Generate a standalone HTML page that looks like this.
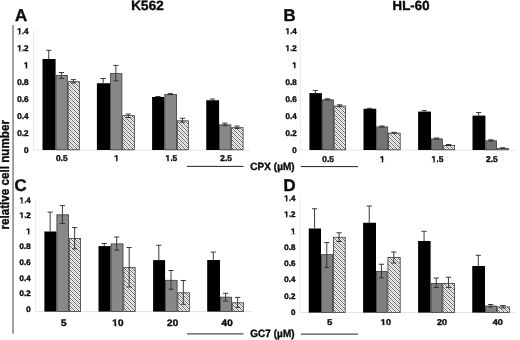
<!DOCTYPE html><html><head><meta charset="utf-8"><title>Figure</title>
<style>html,body{margin:0;padding:0;background:#fff}svg{display:block;will-change:transform;filter:blur(0.4px)}text{font-family:'Liberation Sans', sans-serif;font-weight:bold;stroke:#0a0a0a;stroke-width:0.35px;stroke-linejoin:round}</style></head><body>
<svg width="520" height="340" viewBox="0 0 520 340">
<defs><pattern id="h" width="4" height="4" patternUnits="userSpaceOnUse"><rect width="4" height="4" fill="#f6f6f6"/><path d="M-1 -5L5 1M-1 -1L5 5M-1 3L5 9" stroke="#363636" stroke-width="0.75" fill="none"/><path d="M-1 -3L5 3M-1 1L5 7" stroke="#9a9a9a" stroke-width="0.55" fill="none"/></pattern></defs>
<rect width="520" height="340" fill="#fff"/>
<line x1="13.05" y1="25" x2="13.05" y2="333.8" stroke="#707070" stroke-width="1.3"/>
<text transform="translate(9.3,229.5) rotate(-90)" font-size="12" textLength="109.5" lengthAdjust="spacingAndGlyphs" fill="#0a0a0a">relative cell number</text>
<g transform="translate(15 20.6) matrix(1 0 0.02 1 0 0)"><text font-size="17" text-anchor="start" fill="#0a0a0a">A</text></g>
<g transform="translate(283.5 21.1) matrix(1 0 0.02 1 0 0)"><text font-size="17" text-anchor="start" fill="#0a0a0a">B</text></g>
<g transform="translate(14.4 190.8) matrix(1 0 0.02 1 0 0)"><text font-size="17" text-anchor="start" fill="#0a0a0a">C</text></g>
<g transform="translate(283.6 191.0) matrix(1 0 0.02 1 0 0)"><text font-size="17" text-anchor="start" fill="#0a0a0a">D</text></g>
<g transform="translate(131.2 10.2) matrix(1 0 0.02 1 0 0)"><text font-size="13.4" text-anchor="start" fill="#0a0a0a" textLength="32.6" lengthAdjust="spacingAndGlyphs">K562</text></g>
<g transform="translate(392.6 10.4) matrix(1 0 0.02 1 0 0)"><text font-size="13.2" text-anchor="start" fill="#0a0a0a" textLength="37.0" lengthAdjust="spacingAndGlyphs">HL-60</text></g>
<line x1="33.5" y1="30" x2="33.5" y2="150" stroke="#ebebeb" stroke-width="1"/>
<line x1="33.5" y1="150" x2="250" y2="150" stroke="#e2e2e2" stroke-width="1"/>
<g transform="translate(28.7 153.0) matrix(1 0 0.02 1 0 0)"><text font-size="8.3" text-anchor="end" fill="#0a0a0a">0</text></g>
<g transform="translate(28.7 135.94) matrix(1 0 0.02 1 0 0)"><text font-size="8.3" text-anchor="end" fill="#0a0a0a">0.2</text></g>
<g transform="translate(28.7 118.89) matrix(1 0 0.02 1 0 0)"><text font-size="8.3" text-anchor="end" fill="#0a0a0a">0.4</text></g>
<g transform="translate(28.7 101.83) matrix(1 0 0.02 1 0 0)"><text font-size="8.3" text-anchor="end" fill="#0a0a0a">0.6</text></g>
<g transform="translate(28.7 84.77) matrix(1 0 0.02 1 0 0)"><text font-size="8.3" text-anchor="end" fill="#0a0a0a">0.8</text></g>
<g transform="translate(28.7 67.71) matrix(1 0 0.02 1 0 0)"><text font-size="8.3" text-anchor="end" fill="#0a0a0a">1</text><rect x="-4.89" y="-1.25" width="2.05" height="1.75" fill="#fff"/><rect x="-1.38" y="-1.25" width="2.01" height="1.75" fill="#fff"/></g>
<g transform="translate(28.7 50.66) matrix(1 0 0.02 1 0 0)"><text font-size="8.3" text-anchor="end" fill="#0a0a0a">1.2</text><rect x="-11.81" y="-1.25" width="2.05" height="1.75" fill="#fff"/><rect x="-8.30" y="-1.25" width="2.01" height="1.75" fill="#fff"/></g>
<g transform="translate(28.7 33.6) matrix(1 0 0.02 1 0 0)"><text font-size="8.3" text-anchor="end" fill="#0a0a0a">1.4</text><rect x="-11.81" y="-1.25" width="2.05" height="1.75" fill="#fff"/><rect x="-8.30" y="-1.25" width="2.01" height="1.75" fill="#fff"/></g>
<rect x="42.50" y="59.00" width="13.10" height="91.00" fill="#000"/>
<path d="M48.75 50.25V59.00M46.15 50.25H51.35" stroke="#303030" stroke-width="0.95" fill="none"/>
<rect x="56.00" y="75.40" width="11.35" height="74.40" fill="#888888" stroke="#3a3a3a" stroke-width="0.8"/>
<path d="M61.38 72.50V78.50M58.77 72.50H63.98M58.77 78.50H63.98" stroke="#303030" stroke-width="0.95" fill="none"/>
<rect x="68.15" y="81.65" width="11.20" height="68.15" fill="url(#h)" stroke="#3a3a3a" stroke-width="0.8"/>
<path d="M73.45 79.60V83.00M70.85 79.60H76.05M70.85 83.00H76.05" stroke="#303030" stroke-width="0.95" fill="none"/>
<rect x="96.90" y="83.25" width="13.10" height="66.75" fill="#000"/>
<path d="M103.15 78.50V83.25M100.55 78.50H105.75" stroke="#303030" stroke-width="0.95" fill="none"/>
<rect x="110.40" y="73.65" width="11.50" height="76.15" fill="#888888" stroke="#3a3a3a" stroke-width="0.8"/>
<path d="M115.85 65.40V80.75M113.25 65.40H118.45M113.25 80.75H118.45" stroke="#303030" stroke-width="0.95" fill="none"/>
<rect x="122.70" y="115.65" width="11.65" height="34.15" fill="url(#h)" stroke="#3a3a3a" stroke-width="0.8"/>
<path d="M128.22 114.00V117.50M125.62 114.00H130.82M125.62 117.50H130.82" stroke="#303030" stroke-width="0.95" fill="none"/>
<rect x="152.10" y="97.00" width="12.30" height="53.00" fill="#000"/>
<path d="M157.95 96.50V97.00M155.35 96.50H160.55" stroke="#303030" stroke-width="0.95" fill="none"/>
<rect x="164.80" y="94.50" width="11.70" height="55.30" fill="#888888" stroke="#3a3a3a" stroke-width="0.8"/>
<path d="M170.35 93.60V94.60M167.75 93.60H172.95M167.75 94.60H172.95" stroke="#303030" stroke-width="0.95" fill="none"/>
<rect x="177.30" y="120.80" width="11.05" height="29.00" fill="url(#h)" stroke="#3a3a3a" stroke-width="0.8"/>
<path d="M182.52 118.25V122.25M179.92 118.25H185.12M179.92 122.25H185.12" stroke="#303030" stroke-width="0.95" fill="none"/>
<rect x="206.25" y="100.25" width="12.85" height="49.75" fill="#000"/>
<path d="M212.38 99.00V100.25M209.78 99.00H214.97" stroke="#303030" stroke-width="0.95" fill="none"/>
<rect x="219.50" y="124.80" width="11.35" height="25.00" fill="#888888" stroke="#3a3a3a" stroke-width="0.8"/>
<path d="M224.88 123.10V125.60M222.28 123.10H227.47M222.28 125.60H227.47" stroke="#303030" stroke-width="0.95" fill="none"/>
<rect x="231.65" y="127.65" width="11.45" height="22.15" fill="url(#h)" stroke="#3a3a3a" stroke-width="0.8"/>
<path d="M237.07 126.00V128.50M234.47 126.00H239.67M234.47 128.50H239.67" stroke="#303030" stroke-width="0.95" fill="none"/>
<g transform="translate(61.8 161.3) matrix(1 0 0.02 1 0 0)"><text font-size="8.5" text-anchor="middle" fill="#0a0a0a">0.5</text></g>
<g transform="translate(116.6 161.3) matrix(1 0 0.02 1 0 0)"><text font-size="8.5" text-anchor="middle" fill="#0a0a0a">1</text><rect x="-2.63" y="-1.27" width="2.09" height="1.77" fill="#fff"/><rect x="0.95" y="-1.27" width="2.04" height="1.77" fill="#fff"/></g>
<g transform="translate(171.4 161.3) matrix(1 0 0.02 1 0 0)"><text font-size="8.5" text-anchor="middle" fill="#0a0a0a">1.5</text><rect x="-6.17" y="-1.27" width="2.09" height="1.77" fill="#fff"/><rect x="-2.60" y="-1.27" width="2.04" height="1.77" fill="#fff"/></g>
<g transform="translate(226.1 161.3) matrix(1 0 0.02 1 0 0)"><text font-size="8.5" text-anchor="middle" fill="#0a0a0a">2.5</text></g>
<line x1="300.4" y1="30" x2="300.4" y2="150" stroke="#ebebeb" stroke-width="1"/>
<line x1="300.4" y1="150" x2="515" y2="150" stroke="#e2e2e2" stroke-width="1"/>
<g transform="translate(296.8 153.0) matrix(1 0 0.02 1 0 0)"><text font-size="8.2" text-anchor="end" fill="#0a0a0a">0</text></g>
<g transform="translate(296.8 136.04) matrix(1 0 0.02 1 0 0)"><text font-size="8.2" text-anchor="end" fill="#0a0a0a">0.2</text></g>
<g transform="translate(296.8 119.09) matrix(1 0 0.02 1 0 0)"><text font-size="8.2" text-anchor="end" fill="#0a0a0a">0.4</text></g>
<g transform="translate(296.8 102.13) matrix(1 0 0.02 1 0 0)"><text font-size="8.2" text-anchor="end" fill="#0a0a0a">0.6</text></g>
<g transform="translate(296.8 85.17) matrix(1 0 0.02 1 0 0)"><text font-size="8.2" text-anchor="end" fill="#0a0a0a">0.8</text></g>
<g transform="translate(296.8 68.21) matrix(1 0 0.02 1 0 0)"><text font-size="8.2" text-anchor="end" fill="#0a0a0a">1</text><rect x="-4.84" y="-1.24" width="2.04" height="1.74" fill="#fff"/><rect x="-1.36" y="-1.24" width="1.99" height="1.74" fill="#fff"/></g>
<g transform="translate(296.8 51.26) matrix(1 0 0.02 1 0 0)"><text font-size="8.2" text-anchor="end" fill="#0a0a0a">1.2</text><rect x="-11.68" y="-1.24" width="2.04" height="1.74" fill="#fff"/><rect x="-8.20" y="-1.24" width="1.99" height="1.74" fill="#fff"/></g>
<g transform="translate(296.8 34.3) matrix(1 0 0.02 1 0 0)"><text font-size="8.2" text-anchor="end" fill="#0a0a0a">1.4</text><rect x="-11.68" y="-1.24" width="2.04" height="1.74" fill="#fff"/><rect x="-8.20" y="-1.24" width="1.99" height="1.74" fill="#fff"/></g>
<rect x="309.40" y="93.10" width="12.50" height="56.90" fill="#000"/>
<path d="M315.35 90.60V93.10M312.75 90.60H317.95" stroke="#303030" stroke-width="0.95" fill="none"/>
<rect x="322.30" y="99.80" width="11.05" height="50.00" fill="#747474" stroke="#3a3a3a" stroke-width="0.8"/>
<path d="M327.52 98.80V100.00M324.92 98.80H330.12M324.92 100.00H330.12" stroke="#303030" stroke-width="0.95" fill="none"/>
<rect x="334.15" y="106.00" width="11.45" height="43.80" fill="url(#h)" stroke="#3a3a3a" stroke-width="0.8"/>
<path d="M339.57 104.80V106.60M336.97 104.80H342.18M336.97 106.60H342.18" stroke="#303030" stroke-width="0.95" fill="none"/>
<rect x="363.50" y="108.75" width="12.75" height="41.25" fill="#000"/>
<path d="M369.57 108.30V108.75M366.97 108.30H372.18" stroke="#303030" stroke-width="0.95" fill="none"/>
<rect x="376.65" y="126.90" width="11.05" height="22.90" fill="#747474" stroke="#3a3a3a" stroke-width="0.8"/>
<path d="M381.88 126.00V127.00M379.27 126.00H384.48M379.27 127.00H384.48" stroke="#303030" stroke-width="0.95" fill="none"/>
<rect x="388.50" y="133.15" width="11.70" height="16.65" fill="url(#h)" stroke="#3a3a3a" stroke-width="0.8"/>
<path d="M394.05 132.30V133.20M391.45 132.30H396.65M391.45 133.20H396.65" stroke="#303030" stroke-width="0.95" fill="none"/>
<rect x="418.10" y="111.60" width="12.90" height="38.40" fill="#000"/>
<path d="M424.25 110.60V111.60M421.65 110.60H426.85" stroke="#303030" stroke-width="0.95" fill="none"/>
<rect x="431.40" y="138.90" width="10.95" height="10.90" fill="#747474" stroke="#3a3a3a" stroke-width="0.8"/>
<path d="M436.57 138.00V139.00M433.97 138.00H439.18M433.97 139.00H439.18" stroke="#303030" stroke-width="0.95" fill="none"/>
<rect x="443.15" y="145.40" width="11.45" height="4.40" fill="url(#h)" stroke="#3a3a3a" stroke-width="0.8"/>
<path d="M448.57 144.50V145.50M445.97 144.50H451.18M445.97 145.50H451.18" stroke="#303030" stroke-width="0.95" fill="none"/>
<rect x="472.50" y="115.60" width="12.90" height="34.40" fill="#000"/>
<path d="M478.65 112.50V115.60M476.05 112.50H481.25" stroke="#303030" stroke-width="0.95" fill="none"/>
<rect x="485.80" y="140.80" width="10.70" height="9.00" fill="#747474" stroke="#3a3a3a" stroke-width="0.8"/>
<path d="M490.85 139.80V141.00M488.25 139.80H493.45M488.25 141.00H493.45" stroke="#303030" stroke-width="0.95" fill="none"/>
<rect x="497.30" y="148.50" width="11.30" height="1.30" fill="url(#h)" stroke="#3a3a3a" stroke-width="0.8"/>
<path d="M502.65 147.80V148.40M500.05 147.80H505.25M500.05 148.40H505.25" stroke="#303030" stroke-width="0.95" fill="none"/>
<g transform="translate(328.1 161.8) matrix(1 0 0.02 1 0 0)"><text font-size="8.5" text-anchor="middle" fill="#0a0a0a">0.5</text></g>
<g transform="translate(382.25 161.8) matrix(1 0 0.02 1 0 0)"><text font-size="8.5" text-anchor="middle" fill="#0a0a0a">1</text><rect x="-2.63" y="-1.27" width="2.09" height="1.77" fill="#fff"/><rect x="0.95" y="-1.27" width="2.04" height="1.77" fill="#fff"/></g>
<g transform="translate(437.5 161.8) matrix(1 0 0.02 1 0 0)"><text font-size="8.5" text-anchor="middle" fill="#0a0a0a">1.5</text><rect x="-6.17" y="-1.27" width="2.09" height="1.77" fill="#fff"/><rect x="-2.60" y="-1.27" width="2.04" height="1.77" fill="#fff"/></g>
<g transform="translate(491.9 161.8) matrix(1 0 0.02 1 0 0)"><text font-size="8.5" text-anchor="middle" fill="#0a0a0a">2.5</text></g>
<line x1="35.6" y1="200" x2="35.6" y2="311.6" stroke="#ebebeb" stroke-width="1"/>
<line x1="35.6" y1="311.6" x2="252" y2="311.6" stroke="#e2e2e2" stroke-width="1"/>
<g transform="translate(30.8 312.0) matrix(1 0 0.02 1 0 0)"><text font-size="8.1" text-anchor="end" fill="#0a0a0a">0</text></g>
<g transform="translate(30.8 296.37) matrix(1 0 0.02 1 0 0)"><text font-size="8.1" text-anchor="end" fill="#0a0a0a">0.2</text></g>
<g transform="translate(30.8 280.74) matrix(1 0 0.02 1 0 0)"><text font-size="8.1" text-anchor="end" fill="#0a0a0a">0.4</text></g>
<g transform="translate(30.8 265.11) matrix(1 0 0.02 1 0 0)"><text font-size="8.1" text-anchor="end" fill="#0a0a0a">0.6</text></g>
<g transform="translate(30.8 249.49) matrix(1 0 0.02 1 0 0)"><text font-size="8.1" text-anchor="end" fill="#0a0a0a">0.8</text></g>
<g transform="translate(30.8 233.86) matrix(1 0 0.02 1 0 0)"><text font-size="8.1" text-anchor="end" fill="#0a0a0a">1</text><rect x="-4.79" y="-1.23" width="2.02" height="1.73" fill="#fff"/><rect x="-1.34" y="-1.23" width="1.98" height="1.73" fill="#fff"/></g>
<g transform="translate(30.8 218.23) matrix(1 0 0.02 1 0 0)"><text font-size="8.1" text-anchor="end" fill="#0a0a0a">1.2</text><rect x="-11.55" y="-1.23" width="2.02" height="1.73" fill="#fff"/><rect x="-8.10" y="-1.23" width="1.98" height="1.73" fill="#fff"/></g>
<g transform="translate(30.8 202.6) matrix(1 0 0.02 1 0 0)"><text font-size="8.1" text-anchor="end" fill="#0a0a0a">1.4</text><rect x="-11.55" y="-1.23" width="2.02" height="1.73" fill="#fff"/><rect x="-8.10" y="-1.23" width="1.98" height="1.73" fill="#fff"/></g>
<rect x="44.40" y="231.50" width="12.10" height="80.10" fill="#000"/>
<path d="M50.15 212.10V231.50M47.55 212.10H52.75" stroke="#303030" stroke-width="0.95" fill="none"/>
<rect x="56.90" y="214.80" width="11.70" height="96.60" fill="#888888" stroke="#3a3a3a" stroke-width="0.8"/>
<path d="M62.45 205.60V223.50M59.85 205.60H65.05M59.85 223.50H65.05" stroke="#303030" stroke-width="0.95" fill="none"/>
<rect x="69.30" y="238.40" width="11.30" height="73.00" fill="url(#h)" stroke="#3a3a3a" stroke-width="0.8"/>
<path d="M74.65 227.60V248.90M72.05 227.60H77.25M72.05 248.90H77.25" stroke="#303030" stroke-width="0.95" fill="none"/>
<rect x="98.50" y="246.10" width="12.10" height="65.50" fill="#000"/>
<path d="M104.25 243.50V246.10M101.65 243.50H106.85" stroke="#303030" stroke-width="0.95" fill="none"/>
<rect x="111.00" y="243.90" width="12.00" height="67.50" fill="#888888" stroke="#3a3a3a" stroke-width="0.8"/>
<path d="M116.70 237.00V250.10M114.10 237.00H119.30M114.10 250.10H119.30" stroke="#303030" stroke-width="0.95" fill="none"/>
<rect x="123.80" y="267.65" width="11.40" height="43.75" fill="url(#h)" stroke="#3a3a3a" stroke-width="0.8"/>
<path d="M129.20 247.50V287.00M126.60 247.50H131.80M126.60 287.00H131.80" stroke="#303030" stroke-width="0.95" fill="none"/>
<rect x="153.10" y="260.10" width="12.00" height="51.50" fill="#000"/>
<path d="M158.80 245.25V260.10M156.20 245.25H161.40" stroke="#303030" stroke-width="0.95" fill="none"/>
<rect x="165.50" y="280.30" width="11.60" height="31.10" fill="#888888" stroke="#3a3a3a" stroke-width="0.8"/>
<path d="M171.00 270.50V289.25M168.40 270.50H173.60M168.40 289.25H173.60" stroke="#303030" stroke-width="0.95" fill="none"/>
<rect x="177.90" y="292.80" width="11.45" height="18.60" fill="url(#h)" stroke="#3a3a3a" stroke-width="0.8"/>
<path d="M183.32 280.50V304.25M180.72 280.50H185.92M180.72 304.25H185.92" stroke="#303030" stroke-width="0.95" fill="none"/>
<rect x="207.20" y="260.00" width="12.80" height="51.60" fill="#000"/>
<path d="M213.30 252.10V260.00M210.70 252.10H215.90" stroke="#303030" stroke-width="0.95" fill="none"/>
<rect x="220.40" y="297.15" width="11.10" height="14.25" fill="#888888" stroke="#3a3a3a" stroke-width="0.8"/>
<path d="M225.65 293.25V301.10M223.05 293.25H228.25M223.05 301.10H228.25" stroke="#303030" stroke-width="0.95" fill="none"/>
<rect x="232.30" y="302.80" width="11.30" height="8.60" fill="url(#h)" stroke="#3a3a3a" stroke-width="0.8"/>
<path d="M237.65 297.40V307.40M235.05 297.40H240.25M235.05 307.40H240.25" stroke="#303030" stroke-width="0.95" fill="none"/>
<g transform="translate(63.75 326.2) matrix(1.07 0 0.02 1 0 0)"><text font-size="9.5" text-anchor="middle" fill="#0a0a0a">5</text></g>
<g transform="translate(118 326.2) matrix(1.07 0 0.02 1 0 0)"><text font-size="9.5" text-anchor="middle" fill="#0a0a0a">10</text><rect x="-5.48" y="-1.37" width="2.26" height="1.87" fill="#fff"/><rect x="-1.60" y="-1.37" width="2.20" height="1.87" fill="#fff"/></g>
<g transform="translate(172.7 326.2) matrix(1.07 0 0.02 1 0 0)"><text font-size="9.5" text-anchor="middle" fill="#0a0a0a">20</text></g>
<g transform="translate(227.2 326.2) matrix(1.07 0 0.02 1 0 0)"><text font-size="9.5" text-anchor="middle" fill="#0a0a0a">40</text></g>
<line x1="299.8" y1="198" x2="299.8" y2="312.6" stroke="#ebebeb" stroke-width="1"/>
<line x1="299.8" y1="312.6" x2="515" y2="312.6" stroke="#e2e2e2" stroke-width="1"/>
<g transform="translate(295.5 314.9) matrix(1 0 0.02 1 0 0)"><text font-size="8.1" text-anchor="end" fill="#0a0a0a">0</text></g>
<g transform="translate(295.5 298.63) matrix(1 0 0.02 1 0 0)"><text font-size="8.1" text-anchor="end" fill="#0a0a0a">0.2</text></g>
<g transform="translate(295.5 282.36) matrix(1 0 0.02 1 0 0)"><text font-size="8.1" text-anchor="end" fill="#0a0a0a">0.4</text></g>
<g transform="translate(295.5 266.09) matrix(1 0 0.02 1 0 0)"><text font-size="8.1" text-anchor="end" fill="#0a0a0a">0.6</text></g>
<g transform="translate(295.5 249.81) matrix(1 0 0.02 1 0 0)"><text font-size="8.1" text-anchor="end" fill="#0a0a0a">0.8</text></g>
<g transform="translate(295.5 233.54) matrix(1 0 0.02 1 0 0)"><text font-size="8.1" text-anchor="end" fill="#0a0a0a">1</text><rect x="-4.79" y="-1.23" width="2.02" height="1.73" fill="#fff"/><rect x="-1.34" y="-1.23" width="1.98" height="1.73" fill="#fff"/></g>
<g transform="translate(295.5 217.27) matrix(1 0 0.02 1 0 0)"><text font-size="8.1" text-anchor="end" fill="#0a0a0a">1.2</text><rect x="-11.55" y="-1.23" width="2.02" height="1.73" fill="#fff"/><rect x="-8.10" y="-1.23" width="1.98" height="1.73" fill="#fff"/></g>
<g transform="translate(295.5 201.0) matrix(1 0 0.02 1 0 0)"><text font-size="8.1" text-anchor="end" fill="#0a0a0a">1.4</text><rect x="-11.55" y="-1.23" width="2.02" height="1.73" fill="#fff"/><rect x="-8.10" y="-1.23" width="1.98" height="1.73" fill="#fff"/></g>
<rect x="308.75" y="228.50" width="12.25" height="84.10" fill="#000"/>
<path d="M314.57 208.75V228.50M311.97 208.75H317.18" stroke="#303030" stroke-width="0.95" fill="none"/>
<rect x="321.40" y="254.65" width="11.30" height="57.75" fill="#808080" stroke="#3a3a3a" stroke-width="0.8"/>
<path d="M326.75 242.60V267.40M324.15 242.60H329.35M324.15 267.40H329.35" stroke="#303030" stroke-width="0.95" fill="none"/>
<rect x="333.50" y="237.30" width="11.70" height="75.10" fill="url(#h)" stroke="#3a3a3a" stroke-width="0.8"/>
<path d="M339.05 232.75V241.50M336.45 232.75H341.65M336.45 241.50H341.65" stroke="#303030" stroke-width="0.95" fill="none"/>
<rect x="363.10" y="222.75" width="12.90" height="89.85" fill="#000"/>
<path d="M369.25 206.00V222.75M366.65 206.00H371.85" stroke="#303030" stroke-width="0.95" fill="none"/>
<rect x="376.40" y="271.40" width="10.70" height="41.00" fill="#808080" stroke="#3a3a3a" stroke-width="0.8"/>
<path d="M381.45 264.25V277.75M378.85 264.25H384.05M378.85 277.75H384.05" stroke="#303030" stroke-width="0.95" fill="none"/>
<rect x="387.90" y="257.40" width="12.30" height="55.00" fill="url(#h)" stroke="#3a3a3a" stroke-width="0.8"/>
<path d="M393.75 252.00V263.00M391.15 252.00H396.35M391.15 263.00H396.35" stroke="#303030" stroke-width="0.95" fill="none"/>
<rect x="418.10" y="241.00" width="12.50" height="71.60" fill="#000"/>
<path d="M424.05 231.25V241.00M421.45 231.25H426.65" stroke="#303030" stroke-width="0.95" fill="none"/>
<rect x="431.00" y="283.40" width="11.10" height="29.00" fill="#808080" stroke="#3a3a3a" stroke-width="0.8"/>
<path d="M436.25 278.00V287.60M433.65 278.00H438.85M433.65 287.60H438.85" stroke="#303030" stroke-width="0.95" fill="none"/>
<rect x="442.90" y="283.40" width="11.70" height="29.00" fill="url(#h)" stroke="#3a3a3a" stroke-width="0.8"/>
<path d="M448.45 277.25V287.60M445.85 277.25H451.05M445.85 287.60H451.05" stroke="#303030" stroke-width="0.95" fill="none"/>
<rect x="472.25" y="266.00" width="12.75" height="46.60" fill="#000"/>
<path d="M478.32 255.25V266.00M475.72 255.25H480.93" stroke="#303030" stroke-width="0.95" fill="none"/>
<rect x="485.40" y="306.00" width="11.10" height="6.40" fill="#808080" stroke="#3a3a3a" stroke-width="0.8"/>
<path d="M490.65 304.50V307.00M488.05 304.50H493.25M488.05 307.00H493.25" stroke="#303030" stroke-width="0.95" fill="none"/>
<rect x="497.30" y="306.90" width="12.05" height="5.50" fill="url(#h)" stroke="#3a3a3a" stroke-width="0.8"/>
<path d="M503.02 305.50V308.00M500.42 305.50H505.62M500.42 308.00H505.62" stroke="#303030" stroke-width="0.95" fill="none"/>
<g transform="translate(329.9 325.4) matrix(1.08 0 0.02 1 0 0)"><text font-size="8.5" text-anchor="middle" fill="#0a0a0a">5</text></g>
<g transform="translate(385.9 325.4) matrix(1.08 0 0.02 1 0 0)"><text font-size="8.5" text-anchor="middle" fill="#0a0a0a">10</text><rect x="-4.99" y="-1.27" width="2.09" height="1.77" fill="#fff"/><rect x="-1.42" y="-1.27" width="2.04" height="1.77" fill="#fff"/></g>
<g transform="translate(442 325.4) matrix(1.08 0 0.02 1 0 0)"><text font-size="8.5" text-anchor="middle" fill="#0a0a0a">20</text></g>
<g transform="translate(497.75 325.4) matrix(1.08 0 0.02 1 0 0)"><text font-size="8.5" text-anchor="middle" fill="#0a0a0a">40</text></g>
<path d="M187 166.4H243.5M300.8 166.6H358" stroke="#222" stroke-width="1"/>
<g transform="translate(250.3 170.0) matrix(1 0 0.02 1 0 0)"><text font-size="10.5" text-anchor="start" fill="#0a0a0a" textLength="44.4" lengthAdjust="spacingAndGlyphs">CPX (µM)</text></g>
<path d="M187 333.9H243.5M300.8 334.1H358" stroke="#222" stroke-width="1"/>
<g transform="translate(250.2 336.6) matrix(1 0 0.02 1 0 0)"><text font-size="10.6" text-anchor="start" fill="#0a0a0a" textLength="44.5" lengthAdjust="spacingAndGlyphs">GC7 (µM)</text></g>
</svg></body></html>
